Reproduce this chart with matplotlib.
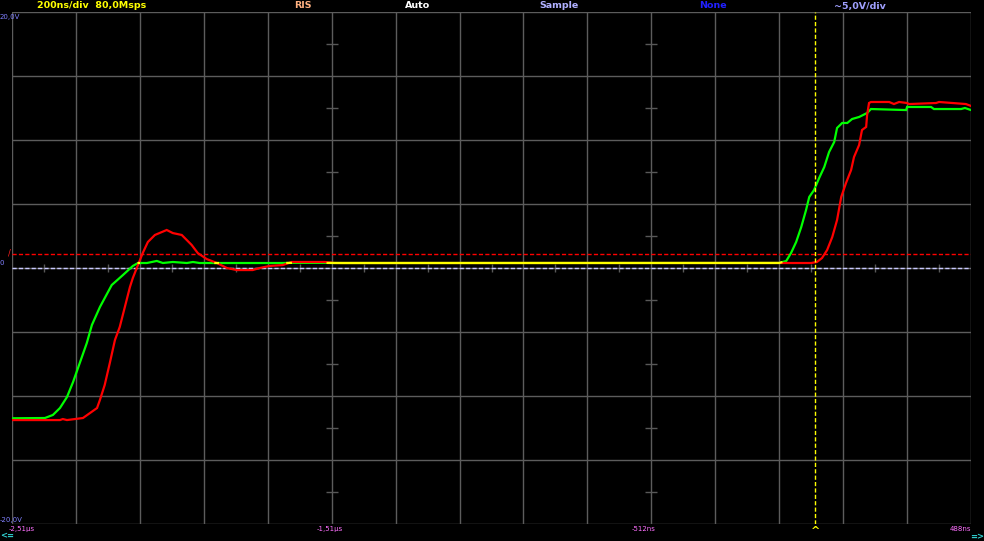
import numpy as np
import matplotlib
matplotlib.use("Agg")
import matplotlib.pyplot as plt

plt.rcParams['lines.scale_dashes'] = False

# ---- data (time in ns, voltage in V) ----
green_t = [-2512, -2409, -2384, -2362, -2340, -2321, -2300, -2278, -2262, -2237, -2200, -2165,
           -2134, -2118, -2090, -2059, -2040, -2009, -1965, -1946, -1925, -1665, -1634, -1534,
           -1503, -112, -90, -75, -59, -43, -28, -18, -3, 13, 29, 44, 60, 69, 85, 101, 116, 138,
           163, 175, 285, 288, 363, 372, 457, 469, 488]
green_v = [-11.74, -11.72, -11.48, -10.94, -10.08, -8.91, -7.42, -5.86, -4.45, -3.05, -1.33, -0.55,
           0.16, 0.39, 0.39, 0.55, 0.39, 0.47, 0.39, 0.47, 0.39, 0.39, 0.40, 0.40,
           0.39, 0.39, 0.55, 1.17, 2.03, 3.20, 4.53, 5.55, 6.09, 7.03, 7.89, 9.06, 9.84, 10.94, 11.33,
           11.33, 11.64, 11.80, 12.11, 12.42, 12.34, 12.58, 12.58, 12.42, 12.42, 12.50, 12.34]

red_t = [-2512, -2362, -2353, -2340, -2290, -2268, -2246, -2237, -2222, -2206, -2190, -2175,
         -2159, -2143, -2134, -2118, -2103, -2087, -2065, -2028, -2009, -1981, -1950, -1931,
         -1903, -1871, -1840, -1809, -1759, -1737, -1706, -1665, -1637, -1534, -1503, -12, 6,
         22, 38, 54, 69, 82, 97, 113, 122, 138, 147, 160, 163, 169, 175, 232, 247, 263, 288,
         294, 379, 388, 472, 488]
red_v = [-11.88, -11.88, -11.80, -11.88, -11.72, -11.33, -10.94, -10.31, -9.14, -7.42, -5.63, -4.61,
         -3.05, -1.48, -0.78, 0.23, 1.17, 2.03, 2.58, 2.97, 2.73, 2.58, 1.80, 1.17,
         0.70, 0.39, 0.00, -0.16, -0.16, 0.00, 0.16, 0.23, 0.47, 0.47, 0.39, 0.39, 0.47,
         0.78, 1.41, 2.42, 3.75, 5.55, 6.64, 7.66, 8.67, 9.61, 10.78, 11.02, 11.95, 12.89, 12.97,
         12.97, 12.81, 12.97, 12.89, 12.81, 12.89, 12.97, 12.81, 12.66]

trigger_level = 1.09   # V
trigger_time = 0       # ns
t_min, t_max = -2512, 488
v_min, v_max = -20, 20
time_labels = ["-2,51µs", "-1,51µs", "-512ns", "488ns"]

W, H = 984, 541
fig = plt.figure(figsize=(W / 100, H / 100), dpi=100, facecolor='black')
x0, x1, y0, y1 = 12, 971, 12, 524
ax = fig.add_axes([x0 / W, 1 - y1 / H, (x1 - x0) / W, (y1 - y0) / H])
ax.set_facecolor('black')
ax.set_xlim(t_min, t_max)
ax.set_ylim(v_min, v_max)
for s in ax.spines.values():
    s.set_visible(False)
ax.set_xticks([])
ax.set_yticks([])

gridc = '#5c5c5c'
div_t = 200
for k in range(16):
    ax.axvline(t_min + k * div_t, color=gridc, lw=1.0, zorder=1)
for k in range(9):
    ax.axhline(v_min + k * 5, color=gridc, lw=1.0, zorder=1)

# minor ticks
half_v = np.arange(v_min + 2.5, v_max, 5)
for tx in [-1512, -512]:
    ax.plot([tx] * len(half_v), half_v, ls='none', marker='_', ms=8, mew=1.0, color='#585858', zorder=1)
half_t = np.arange(t_min + 100, t_max, 200)
ax.plot(half_t, [0] * len(half_t), ls='none', marker='|', ms=6, mew=1.0, color='#585858', zorder=1)

# reference lines
ax.axhline(0, color='#c8c8ff', lw=1.0, dashes=(3.0, 1.6), zorder=2)
ax.axhline(trigger_level, color='#ff0000', lw=1.0, dashes=(3.0, 1.6), zorder=2)
ax.axvline(trigger_time, color='#ffff00', lw=1.0, dashes=(3.0, 1.6), zorder=6)

# traces
ax.plot(green_t, green_v, color='#00ff00', lw=1.6, zorder=3, solid_joinstyle='miter')
ax.plot(red_t, red_v, color='#ff0000', lw=1.6, zorder=4, solid_joinstyle='miter')
tt = np.linspace(t_min, t_max, 3000)
gi = np.interp(tt, green_t, green_v)
ri = np.interp(tt, red_t, red_v)
yel = np.where(np.abs(gi - ri) < 0.05, gi, np.nan)
ax.plot(tt, yel, color='#ffff00', lw=1.6, zorder=5)


def px(x, y):
    return x / W, 1 - y / H


fs_top = 6.8
fig.text(*px(37, 6), "200ns/div  80,0Msps", color='#ffff00', fontsize=fs_top, fontweight='bold', va='center', ha='left')
fig.text(*px(303, 6), "RIS", color='#ffb080', fontsize=fs_top, fontweight='bold', va='center', ha='center')
fig.text(*px(418, 6), "Auto", color='#ffffff', fontsize=fs_top, fontweight='bold', va='center', ha='center')
fig.text(*px(559, 6), "Sample", color='#b0b0ff', fontsize=fs_top, fontweight='bold', va='center', ha='center')
fig.text(*px(713, 6), "None", color='#2020ff', fontsize=fs_top, fontweight='bold', va='center', ha='center')
fig.text(*px(860, 6), "~5,0V/div", color='#a0a0ff', fontsize=fs_top, fontweight='bold', va='center', ha='center')

fs_small = 5.0
fig.text(*px(0, 17), "20,0V", color='#8080ff', fontsize=fs_small, va='center', ha='left')
fig.text(*px(0, 520), "-20,0V", color='#8080ff', fontsize=fs_small, va='center', ha='left')
fig.text(*px(0, 263), "0", color='#8080ff', fontsize=fs_small, va='center', ha='left')
fig.text(*px(9, 253), "/", color='#ff2020', fontsize=6, va='center', ha='center')

label_x = [22, 330, 644, 960]
for lab, lx in zip(time_labels, label_x):
    fig.text(*px(lx, 529), lab, color='#ff70ff', fontsize=fs_small, va='center', ha='center')
fig.text(*px(0, 536), "<=", color='#30d0d0', fontsize=6, fontweight='bold', va='center', ha='left')
fig.text(*px(984, 537), "=>", color='#30d0d0', fontsize=6, fontweight='bold', va='center', ha='right')
fig.text(*px(816, 531), "^", color='#ffff00', fontsize=8, fontweight='bold', va='center', ha='center')

fig.savefig("out.png", dpi=100, facecolor='black')
